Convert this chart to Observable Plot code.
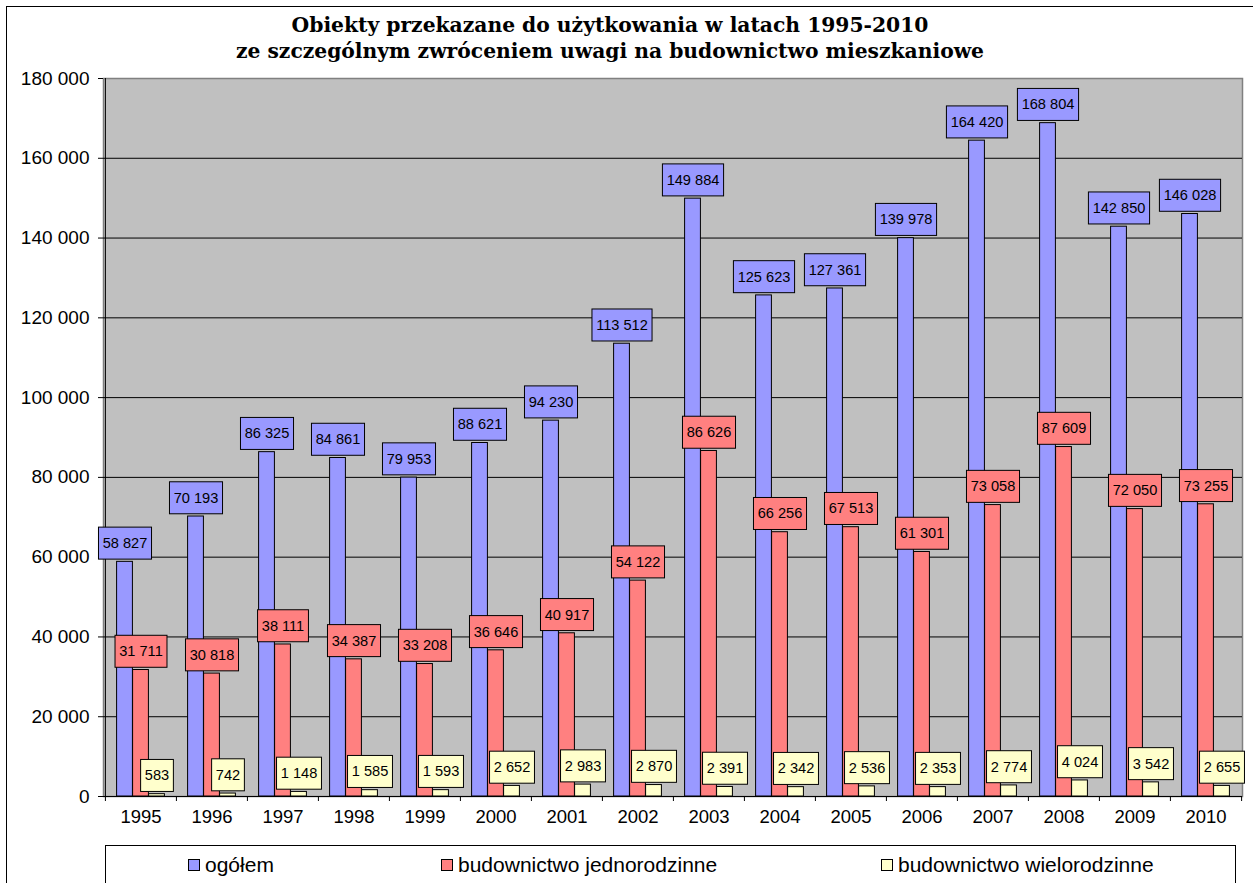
<!DOCTYPE html>
<html>
<head>
<meta charset="utf-8">
<script src="https://cdn.jsdelivr.net/npm/d3@7"></script>
<script src="https://cdn.jsdelivr.net/npm/@observablehq/plot@0.6"></script>
<style>
  body { margin: 0; background: #fff; }
  #page { position: relative; width: 1253px; height: 883px; overflow: hidden; background: #fff; font-family: "Liberation Sans", Arial, sans-serif; }
  #chart { position: absolute; left: 0; top: 0; }
  #title { position: absolute; left: 0; top: 12px; width: 1220px; text-align: center; font-family: "DejaVu Serif", serif; font-weight: bold; font-size: 20.3px; line-height: 26px; color: #000; }
  #legend { position: absolute; left: 105px; top: 845px; width: 1131px; height: 80px; border: 1px solid #000; box-sizing: border-box; background: #fff; }
  .item { position: absolute; top: 8px; display: flex; align-items: center; font-size: 21px; line-height: 21px; color: #000; white-space: nowrap; }
  .sw { width: 12px; height: 12px; border: 1px solid #000; box-sizing: border-box; margin-right: 5px; }
  #frame { position: absolute; left: 6px; top: 6px; width: 1400px; height: 1000px; border: 1.5px solid #000; box-sizing: border-box; pointer-events: none; }
</style>
</head>
<body>
<div id="page">
  <div id="chart"></div>
  <div id="title"></div>
  <div id="legend"></div>
  <div id="frame"></div>
</div>
<script>
const titleLines = ["Obiekty przekazane do użytkowania w latach 1995-2010", "ze szczególnym zwróceniem uwagi na budownictwo mieszkaniowe"];
const years = ["1995","1996","1997","1998","1999","2000","2001","2002","2003","2004","2005","2006","2007","2008","2009","2010"];
const ogolem = [58827, 70193, 86325, 84861, 79953, 88621, 94230, 113512, 149884, 125623, 127361, 139978, 164420, 168804, 142850, 146028];
const jednorodzinne = [31711, 30818, 38111, 34387, 33208, 36646, 40917, 54122, 86626, 66256, 67513, 61301, 73058, 87609, 72050, 73255];
const wielorodzinne = [583, 742, 1148, 1585, 1593, 2652, 2983, 2870, 2391, 2342, 2536, 2353, 2774, 4024, 3542, 2655];
const seriesNames = ["ogółem", "budownictwo jednorodzinne", "budownictwo wielorodzinne"];
const seriesColors = ["#9999FF", "#FF8080", "#FFFFCC"];
const yTicks = [0, 20000, 40000, 60000, 80000, 100000, 120000, 140000, 160000, 180000];

const seriesValues = [ogolem, jednorodzinne, wielorodzinne];
const fmt = n => d3.format(",")(n).replace(/,/g, " ");
const rows = vals => years.map((year, i) => ({year, value: vals[i]}));

const W = 1253, H = 840, mL = 103, mR = 11, mT = 78, mB = 44;
const bw = (W - mL - mR) / years.length;
const barW = 16;
const offsets = [-16, 0, 16];

const bars = seriesValues.map((vals, k) => Plot.barY(rows(vals), {
  x: "year", y: "value", fill: seriesColors[k], stroke: "#000", strokeWidth: 1,
  insetLeft: bw / 2 + offsets[k] - barW / 2,
  insetRight: bw / 2 - offsets[k] - barW / 2
}));

const labels = seriesValues.map((vals, k) => Plot.text(rows(vals), {
  x: "year", y: "value", text: d => fmt(d.value), dx: offsets[k], dy: -18.4,
  fontSize: 14.6, fill: "#000", fontFamily: "Liberation Sans, Arial, sans-serif"
}));

const plot = Plot.plot({
  width: W, height: H,
  marginLeft: mL, marginRight: mR, marginTop: mT, marginBottom: mB,
  style: {background: "transparent", fontFamily: "Liberation Sans, Arial, sans-serif", color: "#000"},
  x: {type: "band", domain: years, padding: 0},
  y: {domain: [0, 180000]},
  marks: [
    Plot.frame({fill: "#C0C0C0", stroke: "#808080", strokeWidth: 1.5}),
    Plot.gridY(yTicks.slice(1, -1), {stroke: "#000", strokeOpacity: 1, strokeWidth: 1}),
    ...bars,
    Plot.ruleY([0], {stroke: "#000", strokeWidth: 1}),
    Plot.ruleX([years[0]], {dx: -bw / 2, stroke: "#000", strokeWidth: 1}),
    Plot.axisY({ticks: yTicks, tickSize: 5, tickPadding: 9, tickFormat: fmt, fontSize: 19, label: null}),
    Plot.axisX({tickSize: 0, tickPadding: 13, fontSize: 18.5, label: null}),
    Plot.axisX({tickSize: 5, tickFormat: () => "", dx: -bw / 2, label: null}),
    Plot.axisX({ticks: [years[years.length - 1]], tickSize: 5, tickFormat: () => "", dx: bw / 2, label: null}),
    ...labels
  ]
});
document.getElementById("chart").append(plot);

// boxes behind the value labels
const svgNS = "http://www.w3.org/2000/svg";
const labelGroups = Array.from(plot.querySelectorAll('g[aria-label="text"]'));
labelGroups.forEach((g, k) => {
  g.querySelectorAll("text").forEach(t => {
    const b = t.getBBox();
    const r = document.createElementNS(svgNS, "rect");
    const cy = b.y + b.height / 2;
    r.setAttribute("x", b.x - 4.2);
    r.setAttribute("width", b.width + 8.4);
    r.setAttribute("y", cy - 16);
    r.setAttribute("height", 32);
    r.setAttribute("fill", seriesColors[k]);
    r.setAttribute("stroke", "#000");
    r.setAttribute("stroke-width", 1);
    const tr = t.getAttribute("transform");
    if (tr) r.setAttribute("transform", tr);
    g.insertBefore(r, t);
  });
});

document.getElementById("title").innerHTML = titleLines.map(s => `<div>${s}</div>`).join("");

const legendX = [82, 335, 775];
const legend = document.getElementById("legend");
seriesNames.forEach((name, k) => {
  const it = document.createElement("div");
  it.className = "item";
  it.style.left = legendX[k] + "px";
  it.innerHTML = `<span class="sw" style="background:${seriesColors[k]}"></span><span>${name}</span>`;
  legend.append(it);
});
</script>
</body>
</html>
